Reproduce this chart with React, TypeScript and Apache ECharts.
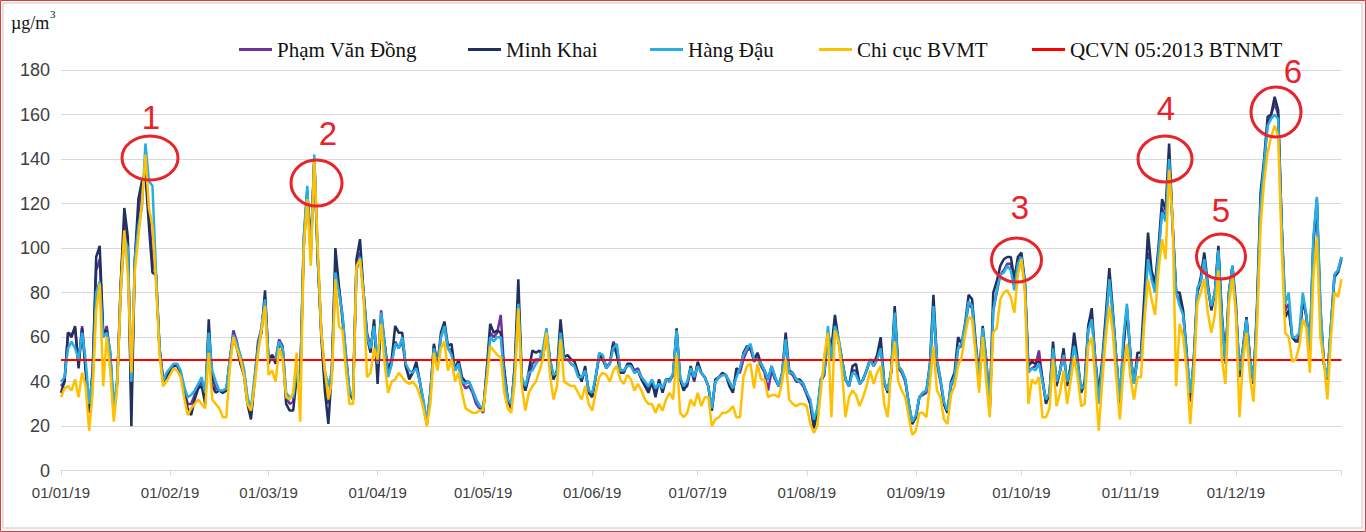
import React, { useEffect, useRef } from "react";
import * as echarts from "echarts";

// ---- calendar / axis ----
const monthDays = [31, 28, 31, 30, 31, 30, 31, 31, 30, 31, 30, 31];
const yearSuffix = "19";
const yMin = 0;
const yMax = 180;
const yStep = 20;
const QCVN_LIMIT = 50;

const seriesNames = ["Phạm Văn Đồng", "Minh Khai", "Hàng Đậu", "Chi cục BVMT", "QCVN 05:2013 BTNMT"];

// ---- daily PM2.5 (µg/m3), 2019 ----
const pvd = [
  38,40,62,61,64,48,65,46,28,44, 90,95,60,65,52,27,40,84,112,102, 30,95,115,128,135,115,95,88,55,42, 43,
  45,47,47,44,36,30,30,34,38,40, 32,63,42,37,36,35,36,50,63,58, 50,45,32,25,40,58,64,78,
  50,52,50,59,56,33,30,31,45,40, 104,126,98,140,95,62,40,30,45,92, 82,70,52,35,32,92,98,80,62,55, 66,
  45,72,57,43,48,58,55,58,47,42, 44,47,40,31,21,35,56,47,60,65, 55,54,45,48,40,37,38,35,30,28,
  26,44,62,60,62,70,45,32,28,47, 78,40,36,42,48,50,50,52,60,50, 42,44,64,50,50,48,47,43,41,45, 36,
  34,42,52,51,47,48,58,55,45, 45,47,48,45,46,42,40,36,40,35, 40,36,41,40,43,62,41,37,38,46, 40,
  48,44,42,38,27,40,42,43,43, 40,36,44,44,50,54,55,49,51,47, 44,36,45,41,38,43,58,44,43,40, 40,38,
  34,30,21,26,40,43,62,52, 66,58,50,41,38,45,45,39,41,45, 50,47,50,56,39,36,44,70,46,44, 40,30,21,
  24,33,34,35,46,74,48, 40,30,26,38,42,55,56,64,75,73, 56,42,62,50,27,72,80,88,90,93, 93,83,94,
  96,84,45,46,47,54,41, 31,34,55,39,45,52,39,46,57,48, 36,38,63,69,50,32,48,66,87,70, 50,31,56,73,
  52,39,50,51,72,98, 87,81,98,118,113,142,110,80,76,70, 52,33,48,80,85,95,82,73,80,99, 68,48,80,92,
  72,44,55,68,50,40, 72,122,138,156,160,165,160,110,72,75, 60,58,60,78,70,54,103,120,72,48, 41,65,88,90,96,
];

const mk = [
  35,40,62,60,65,46,64,45,26,45, 96,101,62,63,52,25,40,85,118,105, 20,95,122,130,133,110,89,88,55,40, 42,
  45,47,48,44,36,28,25,32,37,38, 30,68,38,35,36,35,36,50,60,55, 48,43,30,23,40,56,62,81,
  48,52,48,57,55,30,27,27,42,40, 100,125,100,140,95,60,36,21,45,100, 83,68,50,35,32,95,104,80,60,53, 68,
  39,68,57,45,50,65,62,62,47,41, 44,49,40,30,21,35,57,47,62,67, 56,57,45,50,42,40,40,36,32,29,
  27,45,66,62,63,62,45,32,28,48, 86,42,36,45,54,53,54,51,62,50, 41,45,68,51,52,50,49,44,40,47, 35,
  33,42,52,50,46,48,57,52,44, 44,48,48,44,45,41,38,35,40,33, 41,35,41,41,43,64,41,36,39,47, 41,
  49,44,42,38,27,41,42,44,43, 38,35,46,45,53,56,55,50,53,48, 45,41,47,42,38,44,62,45,44,41, 41,39,
  35,30,19,26,41,44,62,55, 70,59,50,41,38,47,48,39,41,45, 50,48,52,60,40,35,45,74,47,45, 41,30,21,
  24,33,35,36,48,79,50, 41,30,26,40,44,60,57,66,79,77, 58,42,65,50,27,80,85,92,95,96, 96,86,96,
  98,85,47,49,48,50,41, 30,35,58,38,45,55,38,47,62,50, 35,40,65,73,50,35,50,70,91,72, 50,30,55,73,
  52,39,53,53,80,107, 90,84,101,122,117,147,110,80,80,72, 53,31,50,80,87,98,84,72,80,101, 70,50,80,92,
  75,42,55,69,50,39, 75,125,140,159,160,168,162,110,69,72, 60,58,58,77,69,54,102,122,70,48, 41,65,87,89,95,
];

const hd = [
  40,42,55,58,55,50,62,50,30,42, 80,85,60,62,54,28,42,80,105,100, 40,95,110,118,147,130,128,90,55,40, 44,
  46,48,48,45,38,33,34,36,39,42, 35,62,45,40,36,36,37,50,61,57, 52,46,33,28,42,55,65,77,
  50,50,50,58,55,35,33,33,45,40, 105,128,95,142,95,62,45,38,45,89, 80,70,52,36,33,90,96,80,60,55, 65,
  48,71,57,42,48,57,55,60,48,45, 44,46,40,32,22,35,55,47,60,65, 55,52,45,48,40,39,40,36,32,29,
  28,42,60,58,60,60,42,32,30,45, 75,42,38,44,45,48,50,55,64,50, 43,44,62,50,50,48,47,42,42,45, 36,
  35,42,53,52,46,48,55,57,45, 45,47,47,44,45,42,40,38,41,37, 39,37,41,40,44,63,42,38,40,46, 42,
  47,44,42,38,28,40,42,43,43, 40,37,42,46,52,55,57,50,50,48, 45,41,47,42,38,44,59,44,44,41, 40,39,
  35,32,23,28,41,44,65,50, 65,60,50,41,38,44,43,39,41,45, 50,47,50,55,40,36,45,71,47,45, 41,30,22,
  25,33,35,36,47,74,50, 41,31,27,39,42,55,57,65,76,74, 56,42,64,50,28,72,81,88,89,92, 90,81,93,
  96,84,44,46,45,48,40, 32,35,55,40,45,52,40,45,56,48, 37,38,63,68,50,30,48,65,86,70, 50,32,60,75,
  52,39,50,50,70,95, 86,80,98,116,112,140,110,80,74,70, 52,35,48,82,85,95,82,74,80,99, 68,48,80,92,
  72,45,55,68,50,40, 72,120,138,155,158,160,158,110,75,80, 60,60,62,80,70,55,105,123,75,48, 42,65,88,90,96,
];

const cc = [
  33,37,38,36,41,33,44,38,18,35, 72,84,38,60,45,22,38,82,108,88, 44,90,105,120,142,118,110,85,52,38, 40,
  43,46,45,42,33,25,28,30,32,30, 28,53,32,30,28,24,24,46,60,55, 50,43,30,27,38,52,63,74,
  43,45,40,55,50,33,32,35,53,22, 100,122,92,140,100,62,45,32,40,86, 65,63,45,30,30,92,95,78,42,44, 55,
  50,66,48,35,40,41,44,42,40,39, 40,38,34,28,20,30,53,45,55,58, 45,50,40,44,35,28,27,26,26,27,
  27,40,56,54,52,51,35,28,26,40, 73,38,27,35,38,40,45,50,62,43, 32,38,59,40,39,38,38,35,32,38, 30,
  27,35,42,44,43,40,45,47,41, 39,43,41,36,39,36,32,30,30,26, 30,27,32,35,32,52,26,24,26,32, 29,
  35,29,33,33,20,23,24,26,26, 27,29,24,24,42,47,48,37,48,41, 41,33,34,34,33,40,50,32,30,29, 30,30,
  29,21,17,20,36,52,62,24, 63,58,45,24,33,36,34,29,33,38, 45,39,44,47,30,24,45,58,40,36, 33,24,16,
  18,26,26,24,39,56,36, 33,23,21,34,38,47,51,61,69,68, 52,35,60,40,24,62,64,77,80,81, 78,71,88,
  95,80,30,41,39,42,24, 24,28,50,29,35,45,30,40,51,42, 29,30,56,60,41,18,40,60,74,62, 41,23,45,57,
  42,32,42,42,68,86, 77,70,90,104,95,135,112,38,66,60, 45,21,42,75,80,86,71,62,70,90, 50,39,75,87,
  70,24,50,62,42,31, 65,110,130,143,150,155,150,100,62,60, 49,50,56,68,64,44,87,105,60,49, 32,60,80,78,86,
];

// ---- annotation labels ----
const markLabels = ["1", "2", "3", "4", "5", "6"];

const pad = (n: number) => (n < 10 ? "0" + n : "" + n);

export default function App() {
  const ref = useRef<HTMLDivElement>(null);

  useEffect(() => {
    document.body.style.margin = "0";
    if (!ref.current) return;
    const chart = echarts.init(ref.current, undefined, { renderer: "svg" });

    const categories: string[] = [];
    const monthStarts: number[] = [];
    monthDays.forEach((n, m) => {
      monthStarts.push(categories.length);
      for (let d = 1; d <= n; d++) categories.push(`${pad(d)}/${pad(m + 1)}/${yearSuffix}`);
    });
    const lastIdx = categories.length - 1;

    const colors = ["#7030a0", "#1f3160", "#27aee3", "#ffc000", "#ff0000"];
    const datas = [pvd, mk, hd, cc];

    const lineSeries: any[] = datas.map((d, i) => ({
      type: "line",
      name: seriesNames[i],
      data: d,
      symbol: "none",
      showSymbol: false,
      color: colors[i],
      lineStyle: { width: 2.5, color: colors[i] },
      emphasis: { disabled: true },
      z: 2 + i,
    }));
    lineSeries.push({
      type: "line",
      name: seriesNames[4],
      data: [],
      symbol: "none",
      color: colors[4],
      lineStyle: { width: 2.4, color: colors[4] },
      z: 10,
      markLine: {
        silent: true,
        symbol: "none",
        label: { show: false },
        lineStyle: { color: colors[4], width: 2.2, type: "solid" },
        data: [{ yAxis: QCVN_LIMIT }],
      },
    });

    const legendLeft = [234, 463, 645, 814, 1027];
    const legends = seriesNames.map((n, i) => ({
      data: [n],
      left: legendLeft[i],
      top: 34,
      icon: "rect",
      itemWidth: 33,
      itemHeight: 3,
      itemGap: 0,
      selectedMode: false,
      textStyle: { fontFamily: "Liberation Serif", fontSize: 21, color: "#111" },
    }));

    const ellipses = [
      { cx: 150, cy: 158, rx: 28, ry: 22, tx: 151, ty: 117 },
      { cx: 316.5, cy: 183, rx: 25.5, ry: 23, tx: 328, ty: 133 },
      { cx: 1016.5, cy: 260, rx: 25, ry: 22, tx: 1020, ty: 207 },
      { cx: 1165, cy: 159, rx: 27, ry: 23, tx: 1166, ty: 108 },
      { cx: 1221, cy: 256.5, rx: 24.5, ry: 22.5, tx: 1221, ty: 210 },
      { cx: 1276, cy: 112, rx: 25, ry: 25, tx: 1293, ty: 71 },
    ];

    const graphics: any[] = [
      { type: "rect", shape: { x: 0.5, y: 0.5, width: 1365, height: 531 }, style: { fill: "none", stroke: "#e53935", lineWidth: 1 }, silent: true },
      { type: "rect", shape: { x: 3, y: 3, width: 1359, height: 525 }, style: { fill: "none", stroke: "#d9d9d9", lineWidth: 1.5 }, silent: true },
      { type: "text", x: 11, y: 14, style: { text: "µg/m", fontFamily: "Liberation Serif", fontSize: 18, fill: "#111" } },
      { type: "text", x: 50, y: 8, style: { text: "3", fontFamily: "Liberation Serif", fontSize: 11, fill: "#111" } },
    ];
    ellipses.forEach((e, i) => {
      graphics.push({
        type: "ellipse",
        shape: { cx: e.cx, cy: e.cy, rx: e.rx, ry: e.ry },
        style: { fill: "none", stroke: "#e8232a", lineWidth: 3 },
        z: 100,
      });
      graphics.push({
        type: "text",
        x: e.tx,
        y: e.ty,
        style: { text: markLabels[i], fontFamily: "Liberation Sans", fontSize: 33, fill: "#e8232a", align: "center", verticalAlign: "middle" },
        z: 100,
      });
    });

    chart.setOption({
      animation: false,
      backgroundColor: "#ffffff",
      grid: { left: 61, right: 24.5, top: 70, bottom: 61.3, containLabel: false },
      legend: legends,
      xAxis: {
        type: "category",
        data: categories,
        boundaryGap: false,
        axisLine: { lineStyle: { color: "#d9d9d9", width: 1 } },
        axisTick: {
          show: true,
          length: 5,
          interval: (i: number) => monthStarts.includes(i) || i === lastIdx,
          lineStyle: { color: "#d9d9d9" },
        },
        axisLabel: {
          interval: (i: number) => monthStarts.includes(i),
          fontFamily: "Liberation Sans",
          fontSize: 15,
          color: "#404040",
          margin: 14,
        },
        splitLine: { show: false },
      },
      yAxis: {
        type: "value",
        min: yMin,
        max: yMax,
        interval: yStep,
        axisLine: { show: false },
        axisTick: { show: false },
        axisLabel: { fontFamily: "Liberation Sans", fontSize: 18, color: "#404040", margin: 11 },
        splitLine: { lineStyle: { color: "#d9d9d9", width: 1 } },
      },
      series: lineSeries,
      graphic: graphics,
    });

    return () => chart.dispose();
  }, []);

  return <div ref={ref} style={{ width: 1366, height: 532 }} />;
}
